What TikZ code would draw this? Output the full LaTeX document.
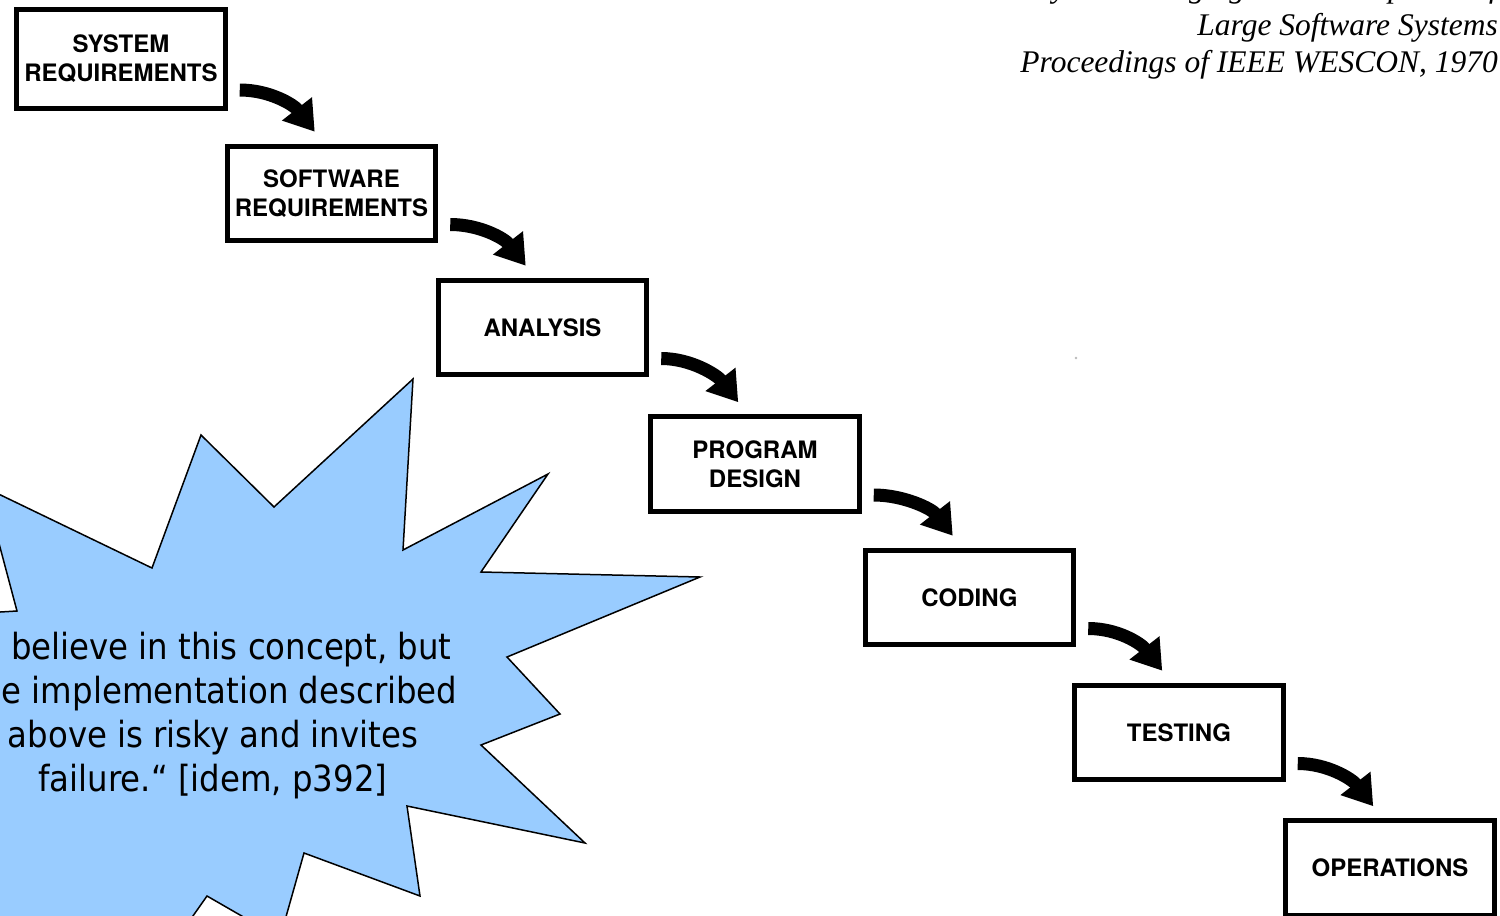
\documentclass[tikz,border=0pt]{standalone}
\usepackage{fontspec}
\setmainfont{Liberation Serif}
\newfontfamily\boxfont{TeX Gyre Heros}
\newfontfamily\quotefont{DejaVu Sans Condensed}
\usetikzlibrary{arrows.meta,calc}
\definecolor{starblue}{HTML}{99CCFF}
\begin{document}
\begin{tikzpicture}[x=1pt,y=-1pt,
  stage/.style={draw=black, line width=5pt, fill=white, minimum width=208.5pt,
    minimum height=94.5pt, inner sep=0pt, align=center,
    font=\boxfont\bfseries\fontsize{24}{29}\selectfont},
  flow/.style={line width=13pt, -{Triangle[width=36pt,length=29pt]}},
  cite/.style={anchor=base east, inner sep=0pt, font=\itshape\fontsize{31.5}{37.5}\selectfont},
  burst/.style={fill=starblue, draw=black, line width=1.5pt, line join=miter},
]
\useasboundingbox (0,0) rectangle (1500,916);
\begin{scope}
\clip (0,0) rectangle (1500,916);

% citation
\node[cite] (c1) at (1498,-3) {Winston W. Royce: Managing the Development of};
\node[cite] (c2) at (1498,35) {Large Software Systems};
\node[cite] (c3) at (1498,72) {Proceedings of IEEE WESCON, 1970};

% stages
\node[stage, minimum height=98.5pt] (b1) at (121,59) {SYSTEM\\REQUIREMENTS};
\node[stage] (b2) at (331.5,193.5) {SOFTWARE\\REQUIREMENTS};
\node[stage] (b3) at (542.5,327.5) {ANALYSIS};
\node[stage] (b4) at (755,464) {PROGRAM\\DESIGN};
\node[stage] (b5) at (969.5,597.5) {CODING};
\node[stage] (b6) at (1179,732.5) {TESTING};
\node[stage] (b7) at (1390,868) {OPERATIONS};

% arrows
\foreach \a/\b in {b1/b2,b2/b3,b3/b4,b4/b5,b5/b6,b6/b7}{
  \coordinate (s-\a) at ($(\a.east)+(12,31)$);
  \coordinate (e-\a) at ($(\b.north west)+(90,-12)$);
  \draw[flow] (s-\a) .. controls ($(s-\a)+(30,0)$) and ($(e-\a)+(-21,-27)$) .. (e-\a);
}

% scan speck
\fill[gray!55] (1076,358) circle (1.3pt);

% burst
\draw[burst] (413,379) -- (403,550) -- (548,474) -- (481,572) -- (700,577)
  -- (507,657) -- (560,714) -- (481,745) -- (585,843) -- (407,806)
  -- (420,896) -- (304,853) -- (280,938) -- (207,896) -- (150,977)
  -- (-100,1000) -- (-100,618) -- (17,611) -- (-16,487) -- (152,568)
  -- (201,435) -- (274,507) -- cycle;
\node[align=center, inner sep=0pt, font=\quotefont\fontsize{36}{44}\selectfont] (q) at (213,716)
  {„I believe in this concept, but\\the implementation described\\above is risky and invites\\failure.“ [idem, p392]};
\end{scope}
\end{tikzpicture}
\end{document}
